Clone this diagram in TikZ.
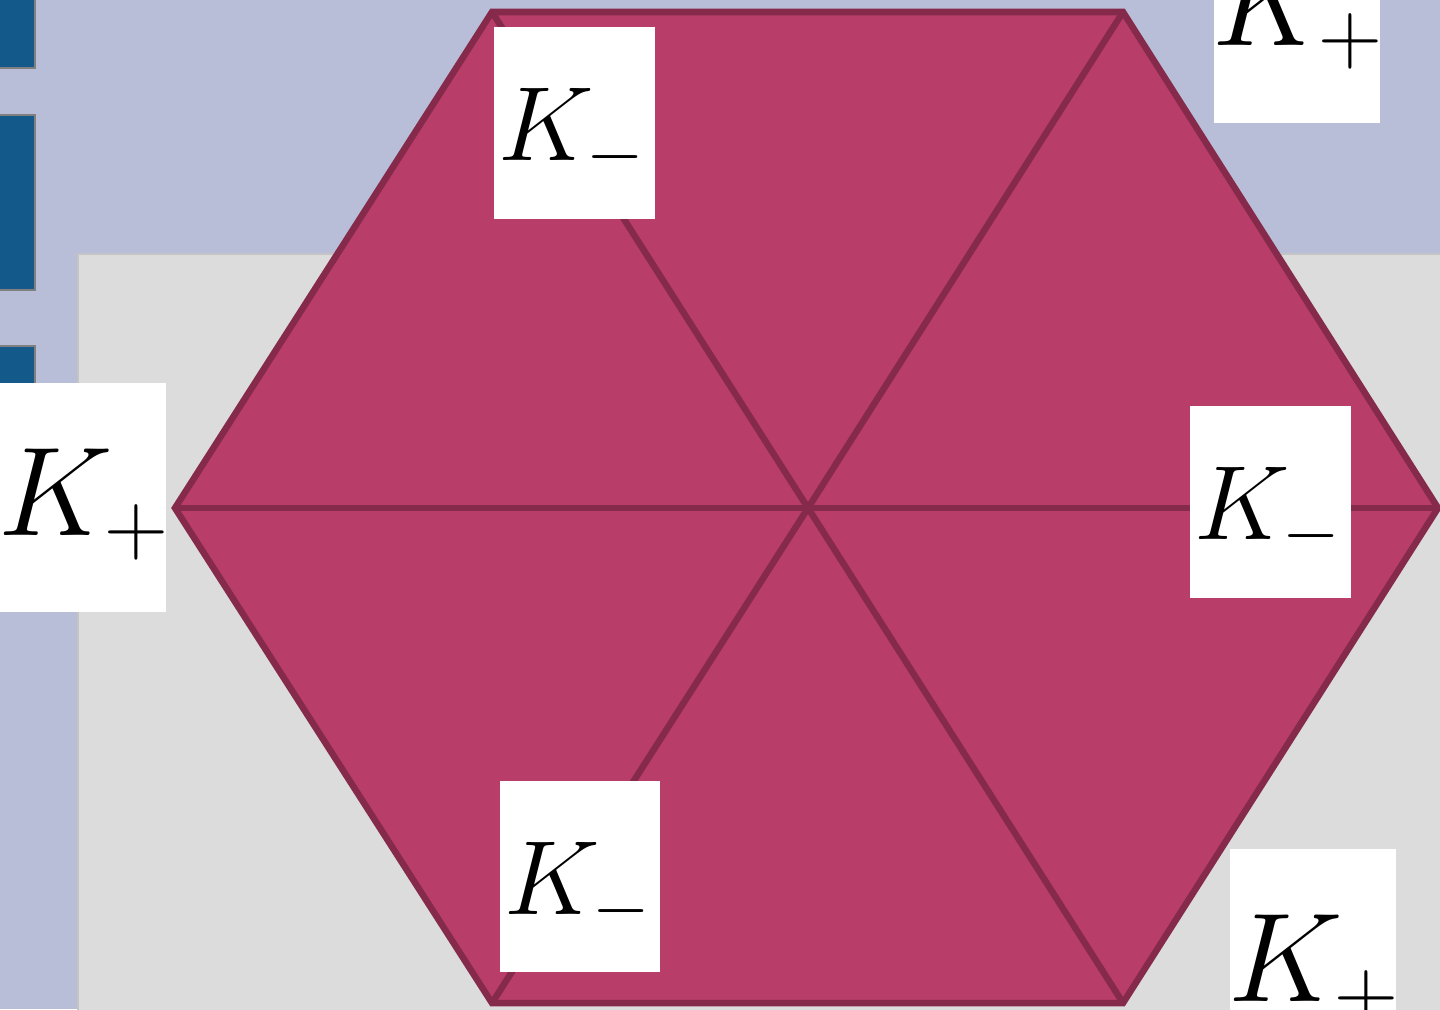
\RequirePackage{fix-cm}
\documentclass[tikz,border=0pt]{standalone}
\usetikzlibrary{calc}
\definecolor{lav}{HTML}{B9BED8}
\definecolor{panel}{HTML}{DCDCDC}
\definecolor{panelrim}{HTML}{C4C4C4}
\definecolor{barblue}{HTML}{135A8A}
\definecolor{hexfill}{HTML}{B83D68}
\definecolor{hexline}{HTML}{862A4C}
\tikzset{
  bar/.style={fill=barblue, draw=gray, line width=0.6pt},
  hexface/.style={fill=hexfill, draw=hexline, line width=0.065cm, line join=miter},
  spoke/.style={draw=hexline, line width=0.065cm},
  kbox/.style={fill=white, draw=none},
  kminus/.style={inner sep=0pt, anchor=base west, font=\fontsize{30}{36}\selectfont},
  kplus/.style={inner sep=0pt, anchor=base west, font=\fontsize{36}{43}\selectfont},
}
\begin{document}
\begin{tikzpicture}[x={(0.01cm,0)}, y={(0,-0.01cm)}]
\useasboundingbox (0,0) rectangle (1440,1009);
\clip (0,0) rectangle (1440,1009);
% background
\fill[lav] (0,0) rectangle (1440,1009);
\draw[fill=panel, draw=panelrim, line width=0.8pt] (78,254) rectangle (1460,1030);
\draw[bar] (-5,-5) rectangle (35,68);
\draw[bar] (-5,115) rectangle (35,290);
\draw[bar] (-5,346) rectangle (35,420);
% hexagon
\coordinate (c) at (808,508);
\coordinate (v1) at (492,12);
\coordinate (v2) at (1123,12);
\coordinate (v3) at (1438,508);
\coordinate (v4) at (1123,1003);
\coordinate (v5) at (492,1003);
\coordinate (v6) at (175,508);
\draw[hexface] (v1) -- (v2) -- (v3) -- (v4) -- (v5) -- (v6) -- cycle;
\foreach \v in {v1,v2,v3,v4,v5,v6} \draw[spoke] (c) -- (\v);
% label boxes
\fill[kbox] (494,27) rectangle (655,219);
\fill[kbox] (1214,-107) rectangle (1380,123);
\fill[kbox] (0,383) rectangle (166,612);
\fill[kbox] (1190,406) rectangle (1351,598);
\fill[kbox] (500,781) rectangle (660,972);
\fill[kbox] (1230,849) rectangle (1396,1078);
% labels
\node[kminus] (l1) at (498,160) {$K_-$};
\node[kplus]  (l2) at (1212,45) {$K_+$};
\node[kplus]  (l3) at (-2,535) {$K_+$};
\node[kminus] (l4) at (1194,539) {$K_-$};
\node[kminus] (l5) at (504,914) {$K_-$};
\node[kplus]  (l6) at (1228,1001) {$K_+$};
\end{tikzpicture}
\end{document}
